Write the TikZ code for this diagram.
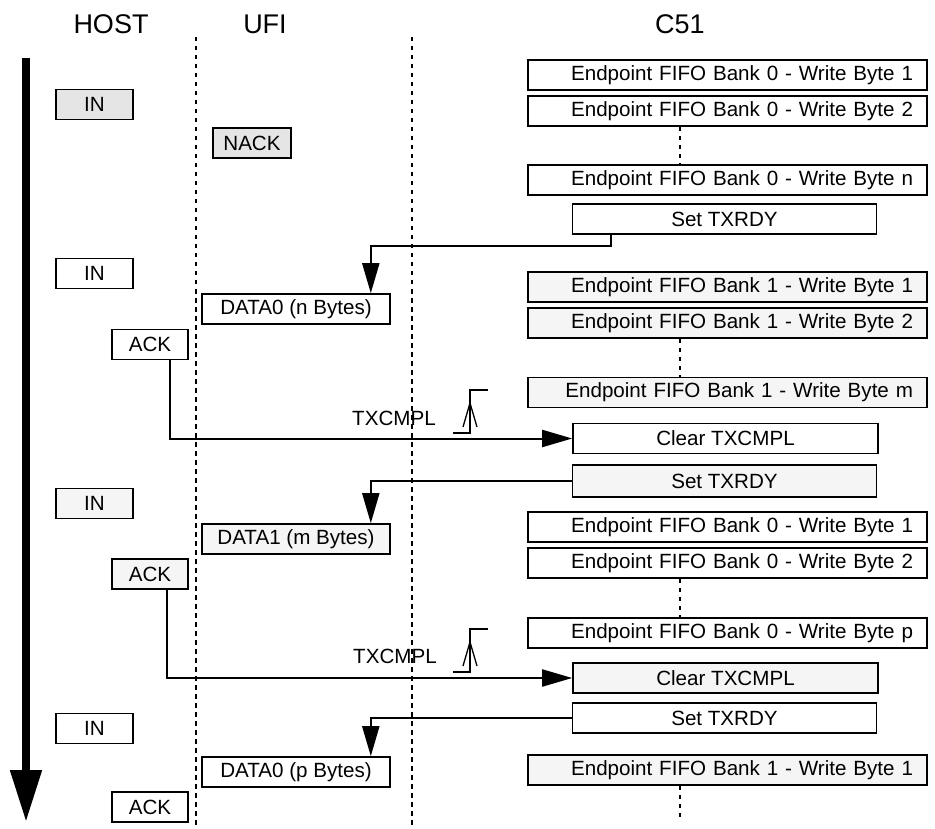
\documentclass[tikz,border=0pt]{standalone}
\usepackage{fontspec}
\setmainfont{Liberation Sans}
\usetikzlibrary{arrows.meta}
\definecolor{shadeA}{gray}{0.9}
\definecolor{shadeB}{gray}{0.96}

\begin{document}
\begin{tikzpicture}[x=1pt, y=-1pt,
  box/.style={draw, line width=1.6pt, inner sep=0pt, minimum height=30pt,
              font=\fontsize{20.6}{24}\selectfont},
  pkt/.style={box, minimum width=77pt},
  dat/.style={box, minimum width=188pt},
  reg/.style={box, minimum width=304pt},
  fifo/.style={box, text width=371pt, align=right, inner xsep=14pt},
  colhead/.style={font=\fontsize{27}{30}\selectfont},
  lane/.style={line width=2pt, dash pattern=on 4.5pt off 4.5pt},
  sig/.style={line width=2pt, -{Triangle[length=30pt,width=17pt]}},
  trig/.style={line width=1.3pt}]

  \useasboundingbox (0,0) rectangle (935,829);

  %% Column heads
  \node[colhead] (host) at (111,24) {HOST};
  \node[colhead] (ufi)  at (265,24) {UFI};
  \node[colhead] (c51)  at (680,24) {C51};

  %% Lanes and time axis
  \coordinate (laneA) at (196,37);
  \coordinate (laneB) at (412,37);
  \draw[lane] (laneA) -- ++(0,792);
  \draw[lane] (laneB) -- ++(0,792);
  \coordinate (t0) at (26,58);
  \coordinate (t1) at (26,822);
  \draw[line width=8pt, -{Triangle[length=52pt,width=30pt]}] (t0) -- (t1);

  %% HOST
  \node[pkt, fill=shadeA] (inA) at (94.5,104.5) {IN};
  \node[pkt] (inB) at (94.5,273.5) {IN};
  \node[pkt, minimum width=76pt] (ackA) at (150,344.5) {ACK};
  \node[pkt, fill=shadeB] (inC) at (94.5,503.5) {IN};
  \node[pkt, minimum width=76pt, fill=shadeB] (ackB) at (150,574) {ACK};
  \node[pkt] (inD) at (94.5,728.5) {IN};
  \node[pkt, minimum width=76pt] (ackC) at (150,807) {ACK};

  %% UFI
  \node[pkt, minimum width=78pt, fill=shadeA] (nack) at (252,143) {NACK};
  \node[dat] (dataA) at (296,309) {DATA0 (n Bytes)};
  \node[dat, fill=shadeB] (dataB) at (296,539) {DATA1 (m Bytes)};
  \node[dat] (dataC) at (296,772) {DATA0 (p Bytes)};

  %% C51
  \node[fifo] (b0a) at (727.5,75)  {Endpoint FIFO Bank 0 - Write Byte 1};
  \node[fifo] (b0b) at (727.5,111) {Endpoint FIFO Bank 0 - Write Byte 2};
  \node[fifo] (b0n) at (727.5,180) {Endpoint FIFO Bank 0 - Write Byte n};
  \node[reg] (rdyA) at (724.5,219) {Set TXRDY};
  \node[fifo, fill=shadeB] (b1a) at (727.5,287) {Endpoint FIFO Bank 1 - Write Byte 1};
  \node[fifo, fill=shadeB] (b1b) at (727.5,323) {Endpoint FIFO Bank 1 - Write Byte 2};
  \node[fifo, fill=shadeB] (b1m) at (727.5,392.5) {Endpoint FIFO Bank 1 - Write Byte m};
  \node[reg, minimum width=305pt] (clrA) at (725.5,438.5) {Clear TXCMPL};
  \node[reg, minimum height=32pt, fill=shadeB] (rdyB) at (724.5,481) {Set TXRDY};
  \node[fifo] (b0c) at (727.5,527) {Endpoint FIFO Bank 0 - Write Byte 1};
  \node[fifo] (b0d) at (727.5,563) {Endpoint FIFO Bank 0 - Write Byte 2};
  \node[fifo] (b0p) at (727.5,633) {Endpoint FIFO Bank 0 - Write Byte p};
  \node[reg, minimum width=305pt, fill=shadeB] (clrB) at (725.5,678) {Clear TXCMPL};
  \node[reg] (rdyC) at (724.5,718) {Set TXRDY};
  \node[fifo, fill=shadeB] (b1c) at (727.5,770) {Endpoint FIFO Bank 1 - Write Byte 1};
  \coordinate (more) at (680,820);

  %% Elided bytes
  \draw[lane] (b0b.south -| c51) -- (b0n.north -| c51);
  \draw[lane] (b1b.south -| c51) -- (b1m.north -| c51);
  \draw[lane] (b0d.south -| c51) -- (b0p.north -| c51);
  \draw[lane] (b1c.south -| c51) -- (more);

  %% Handshakes
  \draw[sig] ([xshift=39pt]rdyA.south west) -- ++(0,11) -| ([xshift=-20pt]dataA.north east);
  \draw[sig] ([xshift=20pt]ackA.south) |- (clrA.west);
  \draw[sig] (rdyB.west) -| ([xshift=-20pt]dataB.north east);
  \draw[sig] ([xshift=17pt]ackB.south) |- (clrB.west);
  \draw[sig] (rdyC.west) -| ([xshift=-20pt]dataC.north east);

  %% TXCMPL interrupt
  \node[font=\fontsize{20.6}{24}\selectfont] (irqA) at (394,418) {TXCMPL};
  \node[font=\fontsize{20.6}{24}\selectfont] (irqB) at (395,656) {TXCMPL};
  \foreach \ey in {0,239} {
    \draw[trig] (453,433+\ey) -| (470,390+\ey) -- (488,390+\ey);
    \draw[trig] (463,427+\ey) -- (470,403+\ey) -- (477,427+\ey);
  }

\end{tikzpicture}
\end{document}
